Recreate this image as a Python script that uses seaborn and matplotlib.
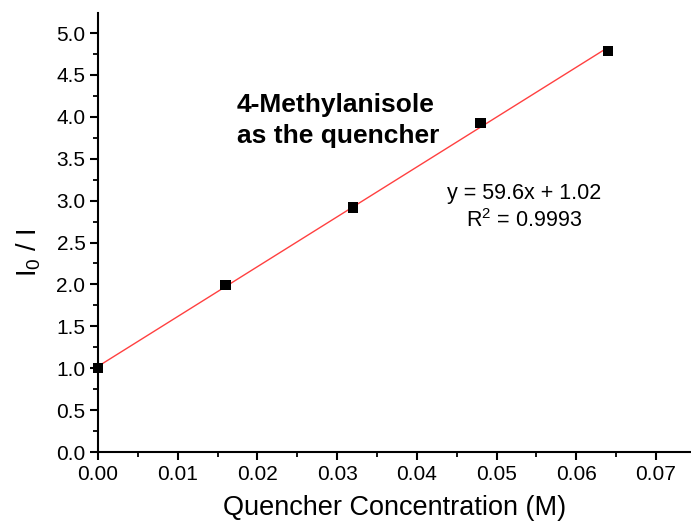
import matplotlib
matplotlib.use("Agg")
import matplotlib.pyplot as plt
import seaborn as sns
import numpy as np
import pandas as pd
from matplotlib.ticker import MultipleLocator, FormatStrFormatter

# Data
conc = [0.0, 0.016, 0.032, 0.048, 0.064]
ratio = [1.00, 1.99, 2.92, 3.93, 4.79]
x_ticks = [0.00, 0.01, 0.02, 0.03, 0.04, 0.05, 0.06, 0.07]
y_ticks = [0.0, 0.5, 1.0, 1.5, 2.0, 2.5, 3.0, 3.5, 4.0, 4.5, 5.0]
annotation = "4-Methylanisole\nas the quencher"
equation = "y = 59.6x + 1.02"
r_squared = "R$^2$ = 0.9993"

df = pd.DataFrame({"conc": conc, "ratio": ratio})

sns.set_theme(style="ticks")
plt.rcParams["font.family"] = ["Liberation Sans", "DejaVu Sans"]
plt.rcParams["mathtext.fontset"] = "custom"
plt.rcParams["mathtext.rm"] = "Liberation Sans"
plt.rcParams["mathtext.it"] = "Liberation Sans"
plt.rcParams["text.color"] = "black"

fig = plt.figure(figsize=(6.91, 5.31), dpi=100)
W, H = 691, 531
ax = fig.add_axes([98 / W, (H - 452) / H, (W - 98) / W, (452 - 13) / H])

sns.regplot(data=df, x="conc", y="ratio", ax=ax, scatter=False, ci=None,
            truncate=True, line_kws=dict(color="#ff4040", lw=1.0))
sns.scatterplot(data=df, x="conc", y="ratio", ax=ax, marker="s", s=55,
                color="black", edgecolor="none", zorder=5, clip_on=False)

ax.set_xlim(0, 0.0744)
ax.set_ylim(0, 5.24)
ax.set_xticks(x_ticks)
ax.set_yticks(y_ticks)
ax.xaxis.set_major_formatter(FormatStrFormatter("%.2f"))
ax.yaxis.set_major_formatter(FormatStrFormatter("%.1f"))
ax.xaxis.set_minor_locator(MultipleLocator(0.005))
ax.yaxis.set_minor_locator(MultipleLocator(0.25))
ax.tick_params(which="major", direction="out", length=6, width=1.5,
               labelsize=15, colors="black", pad=3)
ax.tick_params(which="minor", direction="out", length=3.5, width=1.3,
               colors="black")

for s in ["top", "right"]:
    ax.spines[s].set_visible(False)
for s in ["left", "bottom"]:
    ax.spines[s].set_linewidth(1.5)
    ax.spines[s].set_color("black")

ax.set_xlabel("Quencher Concentration (M)", fontsize=19.5, labelpad=8, color="black")
ax.set_ylabel("I$_0$ / I", fontsize=19.5, color="black")
ax.yaxis.set_label_coords((43 - 98) / 593, 0.453)

ax.text(0.01744, 3.96, annotation, fontsize=19, fontweight="bold",
        ha="left", va="center", linespacing=1.38, color="black")
ax.text(0.05345, 2.92, equation + "\n" + r_squared, fontsize=15.5,
        ha="center", va="center", linespacing=1.3, color="black")

fig.savefig("out.png", dpi=100)
